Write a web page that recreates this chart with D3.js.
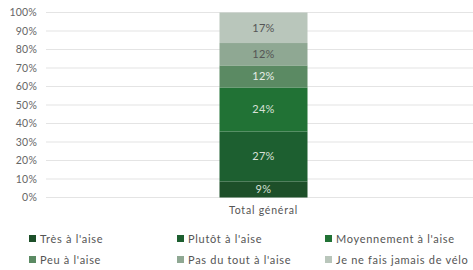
<!DOCTYPE html>
<html><head><meta charset="utf-8">
<script src="https://cdn.jsdelivr.net/npm/d3@7"></script>
<style>body{margin:0;background:#fff}svg{display:block}text{font-family:Lato,"Open Sans",sans-serif}</style>
</head><body><svg id="c" width="473" height="270"></svg>
<script>
const categories = ["Total général"];
const seriesNames = ["Très à l'aise","Plutôt à l'aise","Moyennement à l'aise","Peu à l'aise","Pas du tout à l'aise","Je ne fais jamais de vélo"];
const seriesValues = [8.7, 27.0, 23.8, 11.9, 12.1, 16.5];
const dataLabels = ["9%","27%","24%","12%","12%","17%"];
const tickValues = [0,10,20,30,40,50,60,70,80,90,100];
const colors = ["#1d4f29","#1d5f30","#217235","#5b8a63","#8fa893","#b9c6bb"];
const labelColors = ["#d8e0d8","#d8e0d8","#d8e0d8","#e8eee8","#555","#555"];

const svg = d3.select("#c");
const y = d3.scaleLinear().domain([0,100]).range([197.5,12.5]);
const x = d3.scaleBand().domain(categories).range([46,473]).paddingInner(0).paddingOuter(0);
const barW = 88;

const axis = d3.axisLeft(y).tickValues(tickValues).tickFormat(d=>d+"%").tickSize(0).tickPadding(9);
const gAxis = svg.append("g").attr("transform","translate(46,0)").call(axis);
gAxis.select(".domain").remove();
gAxis.selectAll("text").attr("fill","#666").style("font-size","10.5px").style("letter-spacing","0.2px");

svg.append("g").selectAll("line").data(tickValues).join("line")
  .attr("x1",46).attr("x2",473).attr("y1",d=>y(d)).attr("y2",d=>y(d))
  .attr("stroke","#e4e4e4").attr("stroke-width",1.2);

let cum = 0;
const stack = seriesValues.map((v,i)=>{const s={i,v,y0:cum,y1:cum+v};cum+=v;return s;});
const cx = x(categories[0]) + x.bandwidth()/2 + 4;
const bars = svg.append("g");
bars.selectAll("rect").data(stack).join("rect")
  .attr("x",cx-barW/2).attr("width",barW)
  .attr("y",d=>y(d.y1)).attr("height",d=>y(d.y0)-y(d.y1))
  .attr("fill",d=>colors[d.i]);
bars.selectAll("text").data(stack).join("text")
  .attr("x",cx).attr("y",d=>y((d.y0+d.y1)/2)+4)
  .attr("text-anchor","middle").style("font-size","11px").style("letter-spacing","0.3px")
  .attr("fill",d=>labelColors[d.i]).text(d=>dataLabels[d.i]);

svg.append("text").attr("x",cx).attr("y",214).attr("text-anchor","middle")
  .style("font-size","10.5px").style("letter-spacing","0.8px").attr("fill","#555").text(categories[0]);

const legX = [29,177,325], legY = [239,260];
const leg = svg.append("g").selectAll("g").data(seriesNames).join("g")
  .attr("transform",(d,i)=>`translate(${legX[i%3]},${legY[Math.floor(i/3)]})`);
leg.append("rect").attr("x",0).attr("y",-4).attr("width",7).attr("height",7).attr("fill",(d,i)=>colors[i]);
leg.append("text").attr("x",11).attr("y",3.5).style("font-size","11px").style("letter-spacing","0.7px").attr("fill","#555").text(d=>d);
</script></body></html>
